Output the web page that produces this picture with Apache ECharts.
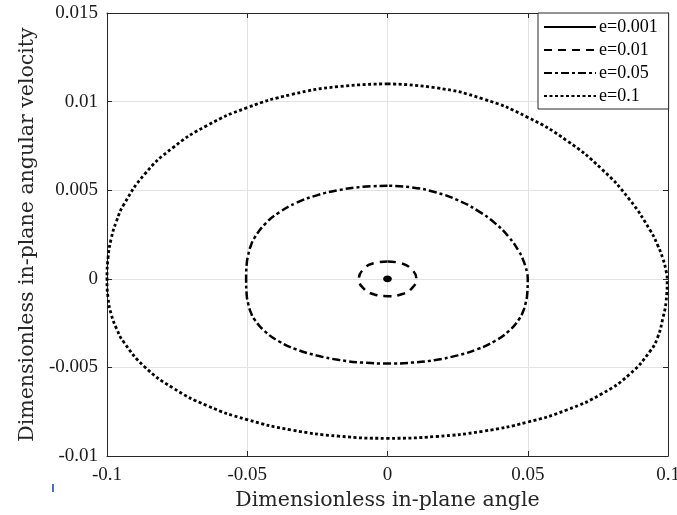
<!DOCTYPE html>
<html>
<head>
<meta charset="utf-8">
<script src="https://cdn.jsdelivr.net/npm/echarts@6/dist/echarts.min.js"></script>
<style>html,body{margin:0;padding:0;background:#fff;}#c{width:677px;height:515px;}</style>
</head>
<body>
<div id="c"></div>
<script>
var xTicks = ['-0.1', '-0.05', '0', '0.05', '0.1'];
var yTicks = ['-0.01', '-0.005', '0', '0.005', '0.01', '0.015'];
var seriesNames = ['e=0.001', 'e=0.01', 'e=0.05', 'e=0.1'];

var e001 = [[0,0.0001],[-0.0007,0.00007],[-0.001,0],[-0.0007,-0.00007],[0,-0.0001],[0.0007,-0.00007],[0.001,0],[0.0007,0.00007],[0,0.0001]];

var e01 = [[0,0.00098],[-0.005,0.00088],[-0.0088,0.0005],[-0.0102,0],[-0.0088,-0.0005],[-0.005,-0.00087],[0.0003,-0.00098],[0.0053,-0.00086],[0.0089,-0.0005],[0.0103,0],[0.0088,0.0005],[0.005,0.00087],[0,0.00098]];

var e05 = [[0,0.00525],[-0.0088,0.00519],[-0.0172,0.00501],[-0.0252,0.00471],[-0.0324,0.00429],[-0.0386,0.00375],[-0.0436,0.0031],[-0.0474,0.00232],[-0.0487,0.00188],[-0.0496,0.00139],[-0.0502,0.00082],[-0.0504,0],
[-0.0502,-0.00091],[-0.0496,-0.00145],[-0.0487,-0.00191],[-0.0474,-0.0023],[-0.0436,-0.00298],[-0.0386,-0.00354],[-0.0324,-0.00399],[-0.0252,-0.00433],[-0.0172,-0.00458],[-0.0088,-0.00473],[0,-0.00478],
[0.0087,-0.00473],[0.0171,-0.00458],[0.025,-0.00432],[0.0321,-0.00397],[0.0383,-0.00351],[0.0433,-0.00294],[0.047,-0.00226],[0.0483,-0.00186],[0.0492,-0.0014],[0.0498,-0.00087],[0.05,0],
[0.0498,0.00031],[0.0492,0.00069],[0.0483,0.00109],[0.047,0.00151],[0.0433,0.00235],[0.0383,0.00314],[0.0321,0.00385],[0.025,0.00444],[0.0171,0.00488],[0.0087,0.00516],[0,0.00525]];

var e1 = [[0,0.011],[-0.0174,0.01085],[-0.0342,0.0104],[-0.05,0.00966],[-0.0643,0.00865],[-0.0766,0.00739],[-0.0866,0.0059],[-0.094,0.00419],[-0.0966,0.00326],[-0.0985,0.00227],[-0.0996,0.00122],[-0.1,0],
[-0.0996,-0.0011],[-0.0985,-0.002],[-0.0966,-0.00281],[-0.094,-0.00358],[-0.0866,-0.00496],[-0.0766,-0.00615],[-0.0643,-0.00716],[-0.05,-0.00795],[-0.0342,-0.00853],[-0.0174,-0.00888],[0,-0.009],
[0.0173,-0.0089],[0.0341,-0.0086],[0.0499,-0.00809],[0.0641,-0.00739],[0.0764,-0.00649],[0.0863,-0.00539],[0.0937,-0.00407],[0.0963,-0.00331],[0.0982,-0.0022],[0.0993,-0.0013],[0.0997,0],
[0.0993,0.00046],[0.0982,0.00113],[0.0963,0.0019],[0.0937,0.00272],[0.0863,0.00447],[0.0764,0.00619],[0.0641,0.00778],[0.0499,0.00912],[0.0341,0.01015],[0.0173,0.01078],[0,0.011]];

var serif = 'Liberation Serif, Times New Roman, serif';
var wideSerif = 'DejaVu Serif, serif';
var axisColor = '#262626';
var chart = echarts.init(document.getElementById('c'), null, {renderer: 'canvas'});

function mkSeries(name, data, type, width) {
  return {
    name: name, type: 'line', data: data, smooth: 0.5, symbol: 'none',
    xAxisIndex: 0, yAxisIndex: 0, animation: false,
    itemStyle: {color: '#000', opacity: 0},
    lineStyle: {color: '#000', width: width, type: type, cap: 'butt'}
  };
}

chart.setOption({
  animation: false,
  backgroundColor: '#fff',
  grid: {left: 107, right: 9, top: 13, bottom: 59, containLabel: false, outerBoundsMode: 'none'},
  legend: {
    data: seriesNames,
    orient: 'vertical',
    left: 538, top: 13,
    itemWidth: 52, itemHeight: 14, itemGap: 5,
    padding: [5, 11, 4, 5],
    backgroundColor: '#fff',
    borderColor: axisColor, borderWidth: 1, borderRadius: 0,
    itemStyle: {opacity: 0},
    textStyle: {fontFamily: serif, fontSize: 18, color: '#000', padding: [0,0,0,-2]}
  },
  xAxis: [{
    type: 'value', min: -0.1, max: 0.1, interval: 0.05, position: 'bottom',
    name: 'Dimensionless in-plane angle', nameLocation: 'middle', nameGap: 30,
    nameTextStyle: {fontFamily: wideSerif, fontSize: 20.5, color: '#262626'},
    axisLine: {show: true, onZero: false, lineStyle: {color: axisColor, width: 1}},
    axisTick: {show: true, inside: true, length: 5, lineStyle: {color: axisColor}},
    axisLabel: {fontFamily: serif, fontSize: 19, color: '#1a1a1a', margin: 10,
      formatter: function (v) { var i = Math.round((v + 0.1) / 0.05); return xTicks[i]; }},
    splitLine: {show: true, lineStyle: {color: '#e3e3e3', width: 1}}
  }, {
    type: 'value', min: -0.1, max: 0.1, interval: 0.05, position: 'top',
    axisLine: {show: true, onZero: false, lineStyle: {color: axisColor, width: 1}},
    axisTick: {show: true, inside: true, length: 5, lineStyle: {color: axisColor}},
    axisLabel: {show: false}, splitLine: {show: false}
  }],
  yAxis: [{
    type: 'value', min: -0.01, max: 0.015, interval: 0.005, position: 'left',
    name: 'Dimensionless in-plane angular velocity', nameLocation: 'middle', nameGap: 65,
    nameTextStyle: {fontFamily: wideSerif, fontSize: 20.5, color: '#262626'},
    axisLine: {show: true, onZero: false, lineStyle: {color: axisColor, width: 1}},
    axisTick: {show: true, inside: true, length: 5, lineStyle: {color: axisColor}},
    axisLabel: {fontFamily: serif, fontSize: 19, color: '#1a1a1a', margin: 9,
      formatter: function (v) { var i = Math.round((v + 0.01) / 0.005); return yTicks[i]; }},
    splitLine: {show: true, lineStyle: {color: '#e3e3e3', width: 1}}
  }, {
    type: 'value', min: -0.01, max: 0.015, interval: 0.005, position: 'right',
    axisLine: {show: true, onZero: false, lineStyle: {color: axisColor, width: 1}},
    axisTick: {show: true, inside: true, length: 5, lineStyle: {color: axisColor}},
    axisLabel: {show: false}, splitLine: {show: false}
  }],
  graphic: [{
    type: 'rect', left: 52, top: 484, shape: {width: 2, height: 8},
    style: {fill: '#4a6fc4'}
  }],
  series: [
    mkSeries(seriesNames[0], e001, 'solid', 3.2),
    mkSeries(seriesNames[1], e01, [8, 6], 2.5),
    mkSeries(seriesNames[2], e05, [8, 3, 3, 3], 2.5),
    mkSeries(seriesNames[3], e1, [3, 2.5], 2.8)
  ]
});
</script>
</body>
</html>
